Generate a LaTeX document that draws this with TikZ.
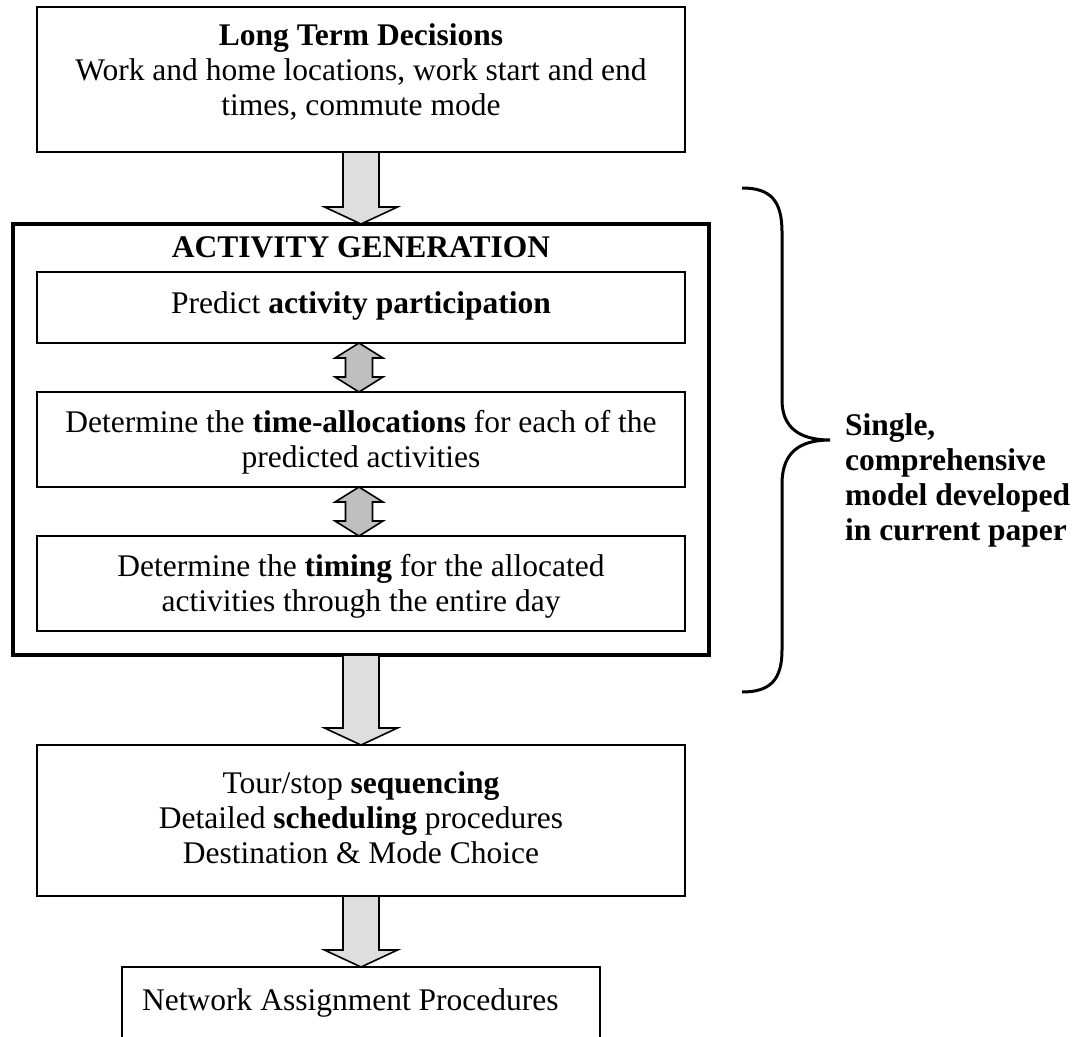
\documentclass[tikz,border=0pt]{standalone}
\usepackage{fontspec}
\setmainfont{Liberation Serif}
\usetikzlibrary{calc}

% fat grey arrows between the boxes
\newcommand\fatdown[2]{%
  \draw[fatarrow] let \p1=(#1), \p2=(#2) in
    (\x1-18pt,\y1) -- (\x1+18pt,\y1) -- (\x1+18pt,\y2+17pt) -- (\x1+36.5pt,\y2+17pt)
    -- (\x1,\y2) -- (\x1-36.5pt,\y2+17pt) -- (\x1-18pt,\y2+17pt) -- cycle;}
\newcommand\fatboth[2]{%
  \draw[duoarrow] let \p1=(#1), \p2=(#2) in
    (\x1,\y1) -- (\x1+24pt,\y1-15pt) -- (\x1+13.5pt,\y1-15pt) -- (\x1+13.5pt,\y2+15pt)
    -- (\x1+24pt,\y2+15pt) -- (\x1,\y2) -- (\x1-24pt,\y2+15pt) -- (\x1-13.5pt,\y2+15pt)
    -- (\x1-13.5pt,\y1-15pt) -- (\x1-24pt,\y1-15pt) -- cycle;}

\begin{document}
\begin{tikzpicture}
    [x=1pt,y=-1pt,
     box/.style={draw,line width=2pt,inner sep=0pt,outer sep=0pt},
     txt/.style={align=center,font=\fontsize{31.5}{35}\selectfont,inner sep=0pt},
     fatarrow/.style={draw,fill=black!13,line width=1.6pt},
     duoarrow/.style={draw,fill=black!25,line width=1.6pt}]
  \useasboundingbox (0,0) rectangle (1083,1036);

  % boxes
  \node[box,minimum width=648,minimum height=145] (ltd) at (361,79.5) {};
  \node[box,line width=4pt,minimum width=696,minimum height=431] (gen) at (361,439.5) {};
  \node[box,minimum width=648,minimum height=71] (part) at (361,307.5) {};
  \node[box,minimum width=648,minimum height=95] (alloc) at (361,439.5) {};
  \node[box,minimum width=648,minimum height=95] (timing) at (361,583.5) {};
  \node[box,minimum width=648,minimum height=151] (seq) at (361,820.5) {};
  \node[box,minimum width=478,minimum height=78] (net) at (361,1006) {};

  % texts
  \node[txt] (ltd-t) at (361,72) {\textbf{Long Term Decisions}\\Work and home locations, work start and end\\times, commute mode};
  \node[txt] (gen-t) at (361,247) {\textbf{ACTIVITY GENERATION}};
  \node[txt] (part-t) at (361,306) {Predict \textbf{activity participation}};
  \node[txt] (alloc-t) at (361,442) {Determine the \textbf{time-allocations} for each of the\\predicted activities};
  \node[txt] (timing-t) at (361,586) {Determine the \textbf{timing} for the allocated\\activities through the entire day};
  \node[txt] (seq-t) at (361,818) {Tour/stop \textbf{sequencing}\\Detailed \textbf{scheduling} procedures\\Destination \& Mode Choice};
  \node[txt,anchor=west] (net-t) at (142,1003) {Network Assignment Procedures};
  \node[txt,align=left,anchor=west] (model-t) at (845,480) {\textbf{Single,}\\\textbf{comprehensive}\\\textbf{model developed}\\\textbf{in current paper}};

  % arrows
  \coordinate (ax) at (361,0);
  \coordinate (dx) at (359,0);
  \fatdown{ltd.south -| ax}{gen.north -| ax}
  \fatdown{gen.south -| ax}{seq.north -| ax}
  \fatdown{seq.south -| ax}{net.north -| ax}
  \fatboth{part.south -| dx}{alloc.north -| dx}
  \fatboth{alloc.south -| dx}{timing.north -| dx}

  % brace
  \draw[line width=3pt] (742,188) .. controls (770,188) and (782,200) .. (782,232)
    -- (782,400) .. controls (782,428) and (800,440) .. (830,440)
    .. controls (800,440) and (782,452) .. (782,484)
    -- (782,650) .. controls (782,680) and (770,692) .. (742,692);
\end{tikzpicture}
\end{document}
